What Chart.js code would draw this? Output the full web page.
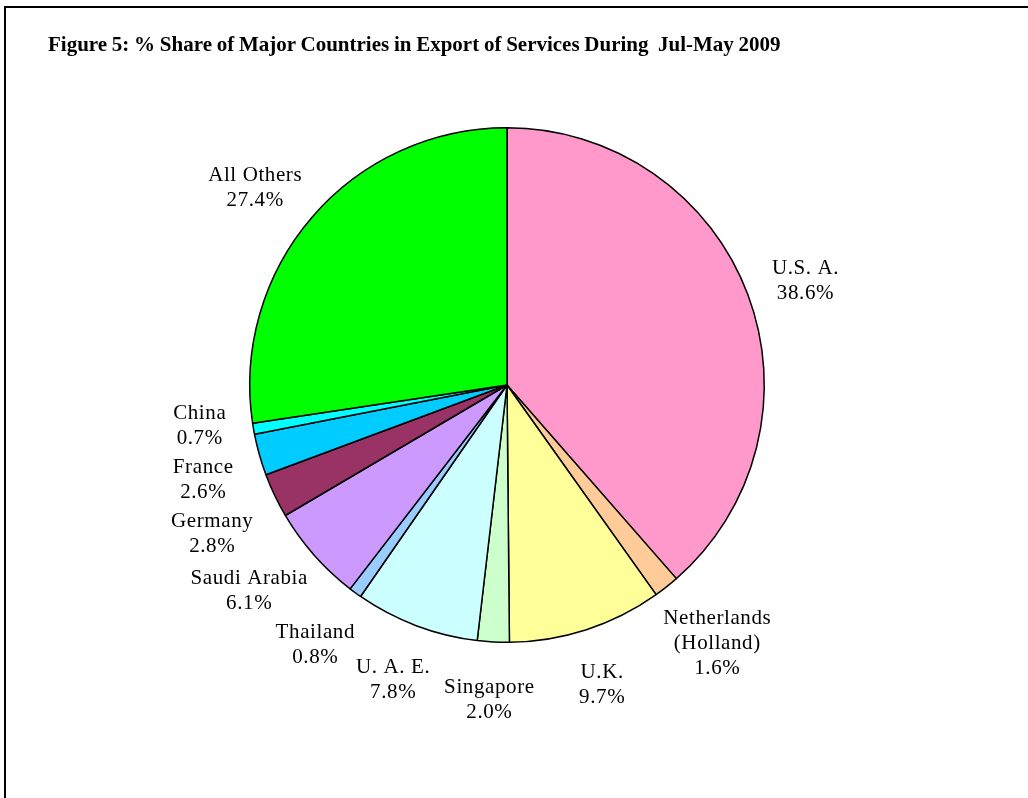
<!DOCTYPE html>
<html>
<head>
<meta charset="utf-8">
<script src="https://cdn.jsdelivr.net/npm/chart.js@4/dist/chart.umd.min.js"></script>
<style>
  body { margin: 0; background: #fff; }
  #quadro { position: absolute; left: 4px; top: 6px; width: 1030px; height: 800px;
            border-left: 2px solid #000; border-top: 2px solid #000; }
  #titulo { position: absolute; left: 48px; top: 32px; font: bold 21px "Liberation Serif", serif;
            word-spacing: -0.5px; color: #000; white-space: pre; }
  #grafico { position: absolute; left: 0; top: 0; }
</style>
</head>
<body>
<div id="quadro"></div>
<canvas id="grafico" width="1028" height="798"></canvas>
<div id="titulo">Figure 5: % Share of Major Countries in Export of Services During  Jul-May 2009</div>
<script>
// Dados do gráfico (fatias no sentido horário a partir do topo)
const paises = [
  ['U.S. A.'], ['Netherlands', '(Holland)'], ['U.K.'], ['Singapore'], ['U. A. E.'],
  ['Thailand'], ['Saudi Arabia'], ['Germany'], ['France'], ['China'], ['All Others']
];
const participacao = [38.6, 1.6, 9.7, 2.0, 7.8, 0.8, 6.1, 2.8, 2.6, 0.7, 27.4];
const cores = ['#FF99CC', '#FFCC99', '#FFFF99', '#CCFFCC', '#CCFFFF', '#99CCFF',
  '#CC99FF', '#993366', '#00CCFF', '#00FFFF', '#00FF00'];

// Plugin para desenhar os rótulos fora da pizza
const rotulosFora = {
  id: 'rotulosFora',
  afterDatasetsDraw(chart) {
    const ctx = chart.ctx;
    const meta = chart.getDatasetMeta(0);
    ctx.save();
    ctx.font = '21px "Liberation Serif", serif';
    ctx.letterSpacing = '0.6px';
    ctx.fillStyle = '#000';
    ctx.textAlign = 'center';
    ctx.textBaseline = 'middle';
    const alturaLinha = 25;

    // posição inicial de cada rótulo
    const caixas = meta.data.map((arco, i) => {
      const meio = (arco.startAngle + arco.endAngle) / 2;
      const dx = Math.cos(meio), dy = Math.sin(meio);
      const linhas = paises[i].concat([participacao[i].toFixed(1) + '%']);
      const largura = Math.max(...linhas.map(l => ctx.measureText(l).width));
      const altura = linhas.length * alturaLinha;
      const r = arco.outerRadius + 28;
      return {
        linhas, largura, altura,
        cx: arco.x + dx * r + dx * largura / 2,
        cy: arco.y + dy * r + dy * altura / 2 + 5
      };
    });

    // afasta rótulos que se sobrepõem
    for (let passo = 0; passo < 30; passo++) {
      for (let a = 0; a < caixas.length; a++) {
        for (let b = a + 1; b < caixas.length; b++) {
          const A = caixas[a], B = caixas[b];
          const sobX = (A.largura + B.largura) / 2 - 6 - Math.abs(A.cx - B.cx);
          const sobY = (A.altura + B.altura) / 2 + 4 - Math.abs(A.cy - B.cy);
          if (sobX > 0 && sobY > 0) {
            const s = A.cy < B.cy ? 1 : -1;
            A.cy -= s * sobY / 2;
            B.cy += s * sobY / 2;
          }
        }
      }
    }

    caixas.forEach(c => {
      c.linhas.forEach((l, j) => {
        ctx.fillText(l, c.cx, c.cy - c.altura / 2 + alturaLinha * (j + 0.5));
      });
    });
    ctx.restore();
  }
};

const ctx = document.getElementById('grafico').getContext('2d');
window.graficoPizza = new Chart(ctx, {
  type: 'pie',
  data: {
    labels: paises.map(p => p.join(' ')),
    datasets: [{
      data: participacao,
      backgroundColor: cores,
      borderColor: '#000',
      borderWidth: 1.5
    }]
  },
  options: {
    responsive: false,
    animation: false,
    layout: { padding: { left: 249, right: 263, top: 127, bottom: 155 } },
    plugins: {
      legend: { display: false },
      tooltip: { enabled: false }
    }
  },
  plugins: [rotulosFora]
});
</script>
</body>
</html>
